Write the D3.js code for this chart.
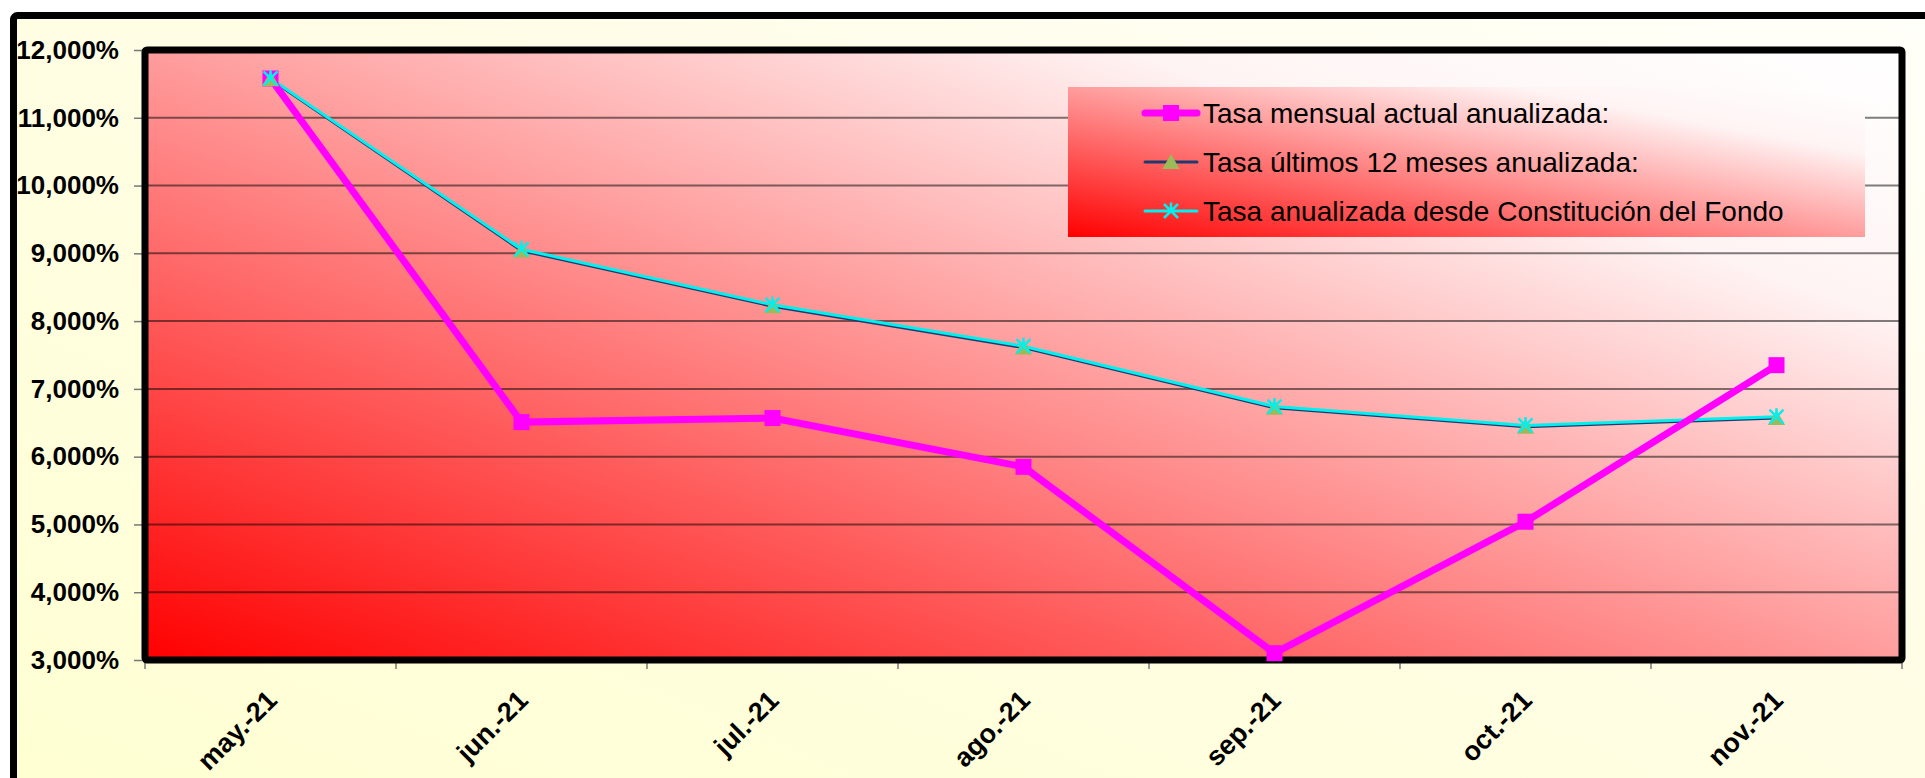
<!DOCTYPE html>
<html>
<head>
<meta charset="utf-8">
<script src="https://cdn.jsdelivr.net/npm/d3@7"></script>
<style>
  body { margin: 0; background: #fff; }
  svg { display: block; font-family: "Liberation Sans", Arial, sans-serif; }
</style>
</head>
<body>
<div id="chart-area"></div>
<script>
// months on the x axis
let months = ["may.-21", "jun.-21", "jul.-21", "ago.-21", "sep.-21", "oct.-21", "nov.-21"];

// series values, in %
let tasaMensual = [11.58, 6.51, 6.57, 5.85, 3.10, 5.04, 7.35];
let tasa12Meses = [11.57, 9.04, 8.22, 7.61, 6.72, 6.44, 6.57];
let tasaConstitucion = [11.58, 9.06, 8.24, 7.63, 6.74, 6.46, 6.59];

let seriesNames = [
    "Tasa mensual actual anualizada:",
    "Tasa últimos 12 meses anualizada:",
    "Tasa anualizada desde Constitución del Fondo"
];

let yTicks = [3, 4, 5, 6, 7, 8, 9, 10, 11, 12];

let W = 1925, H = 778;
let plot = {left: 145, right: 1902, top: 50, bottom: 660};

let svg = d3.select("#chart-area").append("svg")
    .attr("width", W)
    .attr("height", H);

let defs = svg.append("defs");

// red -> white diagonal gradient (plot + legend)
function redGrad(id) {
    let g = defs.append("linearGradient")
        .attr("id", id)
        .attr("x1", 0).attr("y1", 1)
        .attr("x2", 1).attr("y2", 0);
    g.append("stop").attr("offset", 0).attr("stop-color", "#ff0000");
    g.append("stop").attr("offset", 0.78).attr("stop-color", "#fff4f4");
    g.append("stop").attr("offset", 1).attr("stop-color", "#ffffff");
}
redGrad("plotGrad");
redGrad("legendGrad");

let bgGrad = defs.append("linearGradient")
    .attr("id", "bgGrad")
    .attr("x1", 0).attr("y1", 1)
    .attr("x2", 1).attr("y2", 0);
bgGrad.append("stop").attr("offset", 0).attr("stop-color", "#ffffd2");
bgGrad.append("stop").attr("offset", 0.6).attr("stop-color", "#fffde6");
bgGrad.append("stop").attr("offset", 1).attr("stop-color", "#fffffa");

// outer chart area (frame runs off the page right/bottom)
svg.append("rect")
    .attr("x", 13.5).attr("y", 15.5)
    .attr("width", 1960).attr("height", 800)
    .attr("rx", 4)
    .attr("fill", "url(#bgGrad)")
    .attr("stroke", "#000")
    .attr("stroke-width", 7);

// plot area background
svg.append("rect")
    .attr("x", plot.left).attr("y", plot.top)
    .attr("width", plot.right - plot.left)
    .attr("height", plot.bottom - plot.top)
    .attr("fill", "url(#plotGrad)");

let x = d3.scaleBand()
    .domain(months)
    .range([plot.left, plot.right]);

let y = d3.scaleLinear()
    .domain([3, 12])
    .range([plot.bottom, plot.top]);

// gridlines
svg.append("g")
    .selectAll("line")
    .data(yTicks.slice(1, -1))
    .enter().append("line")
    .attr("x1", plot.left).attr("x2", plot.right)
    .attr("y1", d => y(d)).attr("y2", d => y(d))
    .attr("stroke", "#000")
    .attr("stroke-opacity", 0.5)
    .attr("stroke-width", 2);

// y axis
let yAxis = d3.axisLeft(y)
    .tickValues(yTicks)
    .tickSize(8)
    .tickPadding(15)
    .tickFormat(d => d3.format(",.3f")(d).replace(".", ",") + "%");

let yG = svg.append("g")
    .attr("transform", "translate(" + (plot.left - 3) + ",0)")
    .call(yAxis);
yG.select(".domain").remove();
yG.selectAll("line").attr("stroke", "#777").attr("stroke-width", 1.5);
yG.selectAll("text")
    .attr("font-size", "26px")
    .attr("font-weight", "bold")
    .attr("font-family", "'Liberation Sans', Arial, sans-serif")
    .attr("fill", "#000");

// x tick marks at band edges
let edges = months.map(m => x(m)).concat([plot.right]);
svg.append("g")
    .selectAll("line")
    .data(edges)
    .enter().append("line")
    .attr("x1", d => d).attr("x2", d => d)
    .attr("y1", plot.bottom + 3).attr("y2", plot.bottom + 9)
    .attr("stroke", "#777")
    .attr("stroke-width", 1.5);

// x labels
svg.append("g")
    .selectAll("text")
    .data(months)
    .enter().append("text")
    .attr("transform", d => "translate(" + (x(d) + x.bandwidth() / 2 + 8) + ",702) rotate(-45)")
    .attr("text-anchor", "end")
    .attr("font-size", "27px")
    .attr("font-weight", "bold")
    .text(d => d);

// plot frame
svg.append("rect")
    .attr("x", plot.left).attr("y", plot.top)
    .attr("width", plot.right - plot.left)
    .attr("height", plot.bottom - plot.top)
    .attr("fill", "none")
    .attr("stroke", "#000")
    .attr("stroke-width", 7)
    .attr("rx", 2);

let cx = i => x(months[i]) + x.bandwidth() / 2;

let line = d3.line()
    .x((d, i) => cx(i))
    .y(d => y(d));

// lines
svg.append("path")
    .datum(tasa12Meses)
    .attr("d", line)
    .attr("fill", "none")
    .attr("stroke", "#1f3a70")
    .attr("stroke-width", 3);

svg.append("path")
    .datum(tasaConstitucion)
    .attr("d", line)
    .attr("fill", "none")
    .attr("stroke", "#00f0f0")
    .attr("stroke-width", 3);

svg.append("path")
    .datum(tasaMensual)
    .attr("d", line)
    .attr("fill", "none")
    .attr("stroke", "#ff00ff")
    .attr("stroke-width", 7);

// markers
let sq = 16;
svg.append("g")
    .selectAll("rect")
    .data(tasaMensual)
    .enter().append("rect")
    .attr("x", (d, i) => cx(i) - sq / 2)
    .attr("y", d => y(d) - sq / 2)
    .attr("width", sq).attr("height", sq)
    .attr("fill", "#ff00ff");

let tri = d3.symbol().type(d3.symbolTriangle).size(130);
svg.append("g")
    .selectAll("path")
    .data(tasa12Meses)
    .enter().append("path")
    .attr("d", tri)
    .attr("transform", (d, i) => "translate(" + cx(i) + "," + (y(d) + 2) + ")")
    .attr("fill", "#9bbb59");

function star(s) {
    return "M" + (-s) + "," + (-s) + "L" + s + "," + s +
        "M" + (-s) + "," + s + "L" + s + "," + (-s) +
        "M0," + (-s * 1.2) + "L0," + (-s * 0.3);
}
svg.append("g")
    .selectAll("path")
    .data(tasaConstitucion)
    .enter().append("path")
    .attr("d", star(7))
    .attr("transform", (d, i) => "translate(" + cx(i) + "," + y(d) + ")")
    .attr("fill", "none")
    .attr("stroke", "#00f0f0")
    .attr("stroke-width", 2.5);

// legend
let lg = svg.append("g");
lg.append("rect")
    .attr("x", 1068).attr("y", 87)
    .attr("width", 797).attr("height", 150)
    .attr("fill", "url(#legendGrad)");

let rowY = [113, 162, 211];
let lineColors = ["#ff00ff", "#1f3a70", "#00f0f0"];
let lineWidths = [7, 3, 3];

seriesNames.forEach(function(name, i) {
    let ry = rowY[i];
    lg.append("line")
        .attr("x1", 1145).attr("x2", 1197)
        .attr("y1", ry).attr("y2", ry)
        .attr("stroke", lineColors[i])
        .attr("stroke-width", lineWidths[i])
        .attr("stroke-linecap", "round");
    if (i === 0) {
        lg.append("rect")
            .attr("x", 1171 - 8).attr("y", ry - 8)
            .attr("width", 16).attr("height", 16)
            .attr("fill", "#ff00ff");
    } else if (i === 1) {
        lg.append("path")
            .attr("d", tri)
            .attr("transform", "translate(1171," + (ry + 2) + ")")
            .attr("fill", "#9bbb59");
    } else {
        lg.append("path")
            .attr("d", star(7))
            .attr("transform", "translate(1171," + ry + ")")
            .attr("fill", "none")
            .attr("stroke", "#00f0f0")
            .attr("stroke-width", 2.5);
    }
    lg.append("text")
        .attr("x", 1203)
        .attr("y", ry + 10)
        .attr("font-size", "28px")
        .attr("fill", "#000")
        .text(name);
});
</script>
</body>
</html>
